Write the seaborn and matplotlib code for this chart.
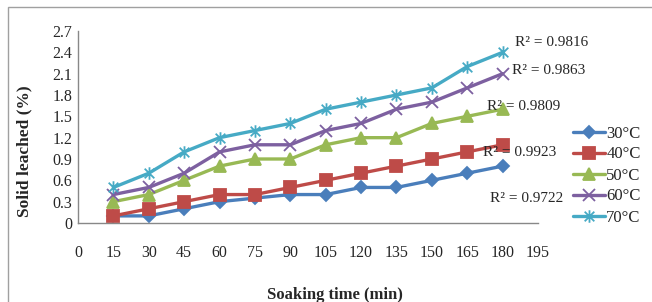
import pandas as pd
import numpy as np
import seaborn as sns
import matplotlib.pyplot as plt
from matplotlib.patches import Rectangle
from matplotlib.path import Path

time = [15, 30, 45, 60, 75, 90, 105, 120, 135, 150, 165, 180]
t30 = [0.1, 0.1, 0.2, 0.3, 0.35, 0.4, 0.4, 0.5, 0.5, 0.6, 0.7, 0.8]
t40 = [0.1, 0.2, 0.3, 0.4, 0.4, 0.5, 0.6, 0.7, 0.8, 0.9, 1.0, 1.1]
t50 = [0.3, 0.4, 0.6, 0.8, 0.9, 0.9, 1.1, 1.2, 1.2, 1.4, 1.5, 1.6]
t60 = [0.4, 0.5, 0.7, 1.0, 1.1, 1.1, 1.3, 1.4, 1.6, 1.7, 1.9, 2.1]
t70 = [0.5, 0.7, 1.0, 1.2, 1.3, 1.4, 1.6, 1.7, 1.8, 1.9, 2.2, 2.4]
labels = ['30°C', '40°C', '50°C', '60°C', '70°C']
r2 = ['R² = 0.9722', 'R² = 0.9923', 'R² = 0.9809', 'R² = 0.9863', 'R² = 0.9816']

df = pd.DataFrame({'time': time * 5,
                   'val': t30 + t40 + t50 + t60 + t70,
                   'temp': np.repeat(labels, len(time))})

sns.set_style('white')
plt.rcParams['font.family'] = ['Liberation Serif', 'DejaVu Serif']

# excel style asterisk marker (x with a vertical bar)
star = Path([(-1, -1), (1, 1), (-1, 1), (1, -1), (0, -1.3), (0, 1.3)],
            [Path.MOVETO, Path.LINETO, Path.MOVETO, Path.LINETO, Path.MOVETO, Path.LINETO])

colors = ['#4a7ebb', '#be4b48', '#98b954', '#7d60a0', '#46aac5']
markers = ['D', 's', '^', 'x', star]
sizes = [6, 9, 8, 8, 9]

fig = plt.figure(figsize=(6.52, 3.02), dpi=100)
fig.patches.append(Rectangle((8 / 652, -0.1), 1, 1 - 7 / 302 + 0.1, transform=fig.transFigure,
                             fill=False, edgecolor='#a0a0a0', lw=1))
ax = fig.add_axes([78 / 652, 1 - 223 / 302, (538 - 78) / 652, (223 - 31) / 302])

for lab, c, m, ms in zip(labels, colors, markers, sizes):
    sns.lineplot(data=df[df.temp == lab], x='time', y='val', color=c, marker=m,
                 markersize=ms, markeredgecolor=c, markeredgewidth=1.3, lw=2.4,
                 label=lab, ax=ax)

ax.set_xlim(0, 195)
ax.set_ylim(0, 2.7)
ax.set_xticks(range(0, 196, 15))
ax.set_yticks(np.arange(0, 2.71, 0.3))
ax.set_yticklabels(['0'] + [f'{v:.1f}' for v in np.arange(0.3, 2.71, 0.3)])
ax.tick_params(axis='x', length=0, pad=16, labelsize=11.5)
ax.tick_params(axis='y', length=0, pad=4, labelsize=11.5)
sns.despine(ax=ax)
for s in ['left', 'bottom']:
    ax.spines[s].set_color('#888888')
    ax.spines[s].set_linewidth(1)

ax.set_xlabel('Soaking time (min)', fontsize=12, fontweight='bold')
ax.xaxis.set_label_coords((335 - 78) / 460, (223 - 287) / 192)
ax.set_ylabel('Solid leached (%)', fontsize=12.5, fontweight='bold')
ax.yaxis.set_label_coords((32 - 78) / 460, (223 - 151) / 192)

r2_pos = [(490, 198), (483, 153), (487, 107), (512, 70), (515, 43)]
for txt, (px, py) in zip(r2, r2_pos):
    fig.text(px / 652, 1 - py / 302, txt, fontsize=11, va='center', ha='left')

ax.legend(loc='center left', bbox_to_anchor=((573 - 78) / 460, (223 - 175.5) / 192),
          frameon=False, fontsize=12, handlelength=1.9, labelspacing=0.3, handletextpad=0.1,
          borderaxespad=0, borderpad=0)

fig.savefig('out.png', dpi=100)
